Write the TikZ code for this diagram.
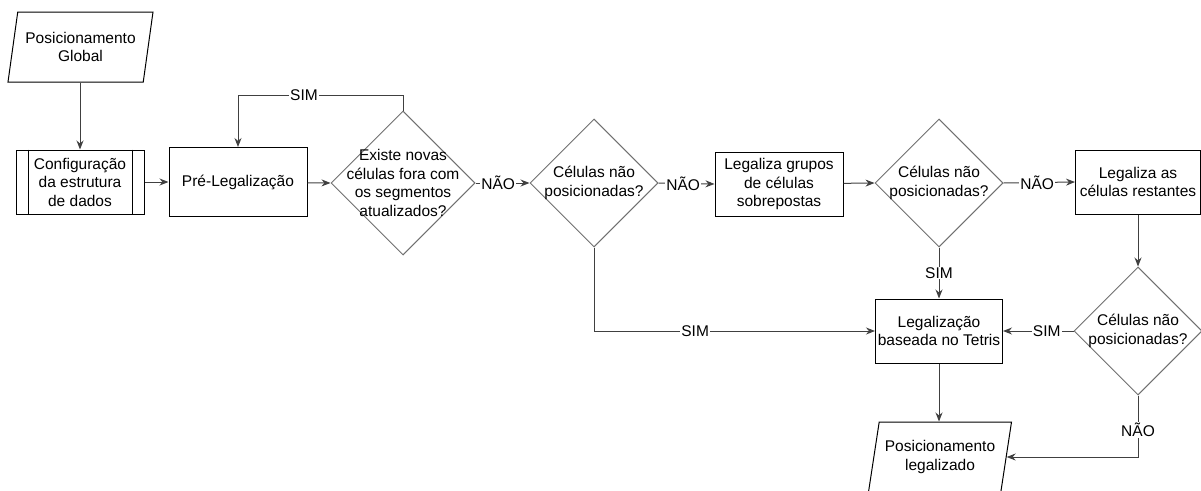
\documentclass[tikz,border=0pt]{standalone}
\usepackage{fontspec}
\setmainfont{Liberation Sans}
\usetikzlibrary{arrows.meta,positioning,shapes.geometric}
\definecolor{lineg}{RGB}{64,64,64}
\definecolor{diamg}{RGB}{112,112,112}

\begin{document}
\begin{tikzpicture}[x=1pt, y=-1pt, font=\fontsize{15.5}{18.5}\selectfont,
    proc/.style={draw, line width=1pt, minimum width=128pt, minimum height=64pt, align=center, inner sep=2pt},
    io/.style={draw, line width=1pt, trapezium, trapezium left angle=73, trapezium right angle=107,
      trapezium stretches body, minimum width=145pt, minimum height=70pt, align=center, inner sep=1pt},
    decision/.style={draw=diamg, line width=1pt, diamond, minimum width=128pt, minimum height=128pt, inner sep=0pt},
    flow/.style={draw=lineg, line width=1pt, -{Stealth[length=9pt,width=7pt]}},
    lbl/.style={fill=white, inner sep=1pt}]
    \clip (0,0) rectangle (1201,490);

    % Entrada
    \node[io] (glob) at (80.5,47) {Posicionamento\\Global};

    % Estrutura de dados
    \node[proc] (cfg) at (80,182) {Configuração\\da estrutura\\de dados};
    \draw[line width=1pt] ([xshift=13pt]cfg.north west) -- ([xshift=13pt]cfg.south west)
      ([xshift=-12pt]cfg.north east) -- ([xshift=-12pt]cfg.south east);
    \draw[flow] (cfg.north |- glob.south) -- (cfg.north);

    % Pre-legalizacao
    \node[proc, minimum width=138pt, minimum height=69pt] (pre) at (238,182) {Pré-Legalização};
    \draw[flow] (cfg) -- (pre);

    % Teste dos segmentos
    \node[decision, minimum width=144pt, minimum height=144pt] (q1) at (403,183) {};
    \node[align=center] (q1txt) at (q1) {Existe novas\\células fora com\\os segmentos\\atualizados?};
    \draw[flow] (pre) -- (q1.west);
    \draw[flow] (q1.north) -- ++(0,-15) -| node[lbl,pos=0.3] {SIM} (pre.north);

    % Primeira verificacao
    \node[decision] (q2) at (594,183) {};
    \node[align=center] (q2txt) at (q2) {Células não\\posicionadas?};
    \draw[flow] (q1.east) -- node[lbl,pos=0.42] {NÃO} (q2.west);

    % Grupos sobrepostos
    \node[proc] (grp) at (779,184) {Legaliza grupos\\de células\\sobrepostas};
    \draw[flow] (q2.east) -- node[lbl,pos=0.44] {NÃO} (grp.west);

    % Segunda verificacao
    \node[decision] (q3) at (939,183) {};
    \node[align=center] (q3txt) at (q3) {Células não\\posicionadas?};
    \draw[flow] (grp) -- (q3.west);

    % Celulas restantes
    \node[proc, minimum width=125pt] (rest) at (1138,182) {Legaliza as\\células restantes};
    \draw[flow] (q3.east) -- node[lbl,pos=0.47] {NÃO} (rest.west);

    % Terceira verificacao
    \node[decision] (q4) at (1138,331) {};
    \node[align=center] (q4txt) at (q4) {Células não\\posicionadas?};
    \draw[flow] (rest) -- (q4.north);

    % Tetris
    \node[proc, minimum width=127pt] (tet) at (939,331) {Legalização\\baseada no Tetris};
    \draw[flow] (q3.south) -- node[lbl] {SIM} (tet);
    \draw[flow] (q4.west) -- node[lbl,pos=0.38] {SIM} (tet);
    \draw[flow] (q2.south) |- node[lbl,pos=0.68] {SIM} (tet.west);

    % Saida
    \node[io, minimum width=143pt] (out) at (940,457) {Posicionamento\\legalizado};
    \draw[flow] (tet.south) -- (tet.south |- out.north);
    \draw[flow] (q4.south) |- node[lbl,pos=0.28] {NÃO} (out.east);
\end{tikzpicture}
\end{document}
